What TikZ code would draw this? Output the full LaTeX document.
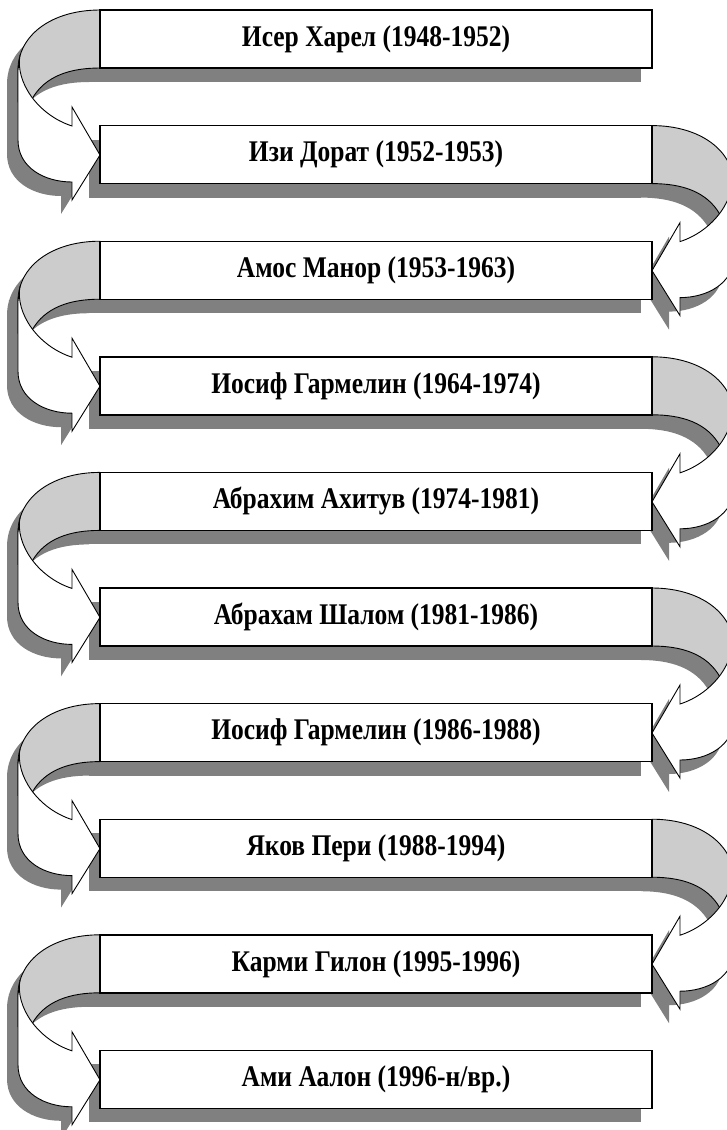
\documentclass[tikz,border=0pt]{standalone}
\usepackage{fontspec}
\setmainfont{Liberation Serif}[FakeStretch=0.85]
\usetikzlibrary{positioning}
\pgfdeclarelayer{background}
\pgfdeclarelayer{mid}
\pgfsetlayers{background,mid,main}
\tikzset{
  entry/.style={draw, line width=1.4pt, fill=white, outer sep=0pt, inner sep=0pt,
    minimum width=552pt, minimum height=58pt, font=\fontsize{30}{30}\selectfont\bfseries},
  shade/.style={fill=black!50},
  backside/.style={fill=black!20, draw, line width=0.9pt, line join=round},
  frontside/.style={fill=white, draw, line width=0.9pt, line join=miter},
}
\newcommand*{\backpath}{(0,0) .. controls (48,0) and (82,25) .. (82,60) -- (82,92) -- (68,89) .. controls (55,66) and (30,58) .. (0,58) -- cycle}
\newcommand*{\frontpath}{(80,45) -- (82,60) -- (82,130) .. controls (82,158) and (55,172) .. (28,172) -- (28,190) -- (0,145) -- (28,97) -- (28,116) .. controls (62,105) and (85,72) .. (80,45) -- cycle}

\begin{document}
\begin{tikzpicture}[x=1pt,y=-1pt]
\useasboundingbox (0,0) rectangle (727,1130);
\node[entry] (harel) at (376,39) {Исер Харел (1948-1952)};
\node[entry, below=57.6pt of harel] (dorat) {Изи Дорат (1952-1953)};
\node[entry, below=57.6pt of dorat] (manor) {Амос Манор (1953-1963)};
\node[entry, below=57.6pt of manor] (garmelin) {Иосиф Гармелин (1964-1974)};
\node[entry, below=57.6pt of garmelin] (ahituv) {Абрахим Ахитув (1974-1981)};
\node[entry, below=57.6pt of ahituv] (shalom) {Абрахам Шалом (1981-1986)};
\node[entry, below=57.6pt of shalom] (garmelinb) {Иосиф Гармелин (1986-1988)};
\node[entry, below=57.6pt of garmelinb] (peri) {Яков Пери (1988-1994)};
\node[entry, below=57.6pt of peri] (gilon) {Карми Гилон (1995-1996)};
\node[entry, below=57.6pt of gilon] (aalon) {Ами Аалон (1996-н/вр.)};

% shadows
\begin{pgfonlayer}{background}
\foreach \n in {harel,dorat,manor,garmelin,ahituv,shalom,garmelinb,peri,gilon,aalon}
  \fill[shade] ([shift={(-11,14)}]\n.north west) rectangle ([shift={(-11,14)}]\n.south east);
\foreach \n in {harel,manor,ahituv,garmelinb,gilon}
  \fill[shade,shift={(\n.north west)},shift={(-11,14)},xscale=-1] \backpath \frontpath;
\foreach \n in {dorat,garmelin,shalom,peri}
  \fill[shade,shift={(\n.north east)},shift={(-11,14)}] \backpath \frontpath;
\end{pgfonlayer}

% turning arrows
\begin{pgfonlayer}{mid}
\foreach \n in {harel,manor,ahituv,garmelinb,gilon} {
  \begin{scope}[shift={(\n.north west)},xscale=-1]
    \draw[backside] \backpath;
    \draw[frontside] \frontpath;
  \end{scope}
}
\foreach \n in {dorat,garmelin,shalom,peri} {
  \begin{scope}[shift={(\n.north east)}]
    \draw[backside] \backpath;
    \draw[frontside] \frontpath;
  \end{scope}
}
\end{pgfonlayer}
\end{tikzpicture}
\end{document}
